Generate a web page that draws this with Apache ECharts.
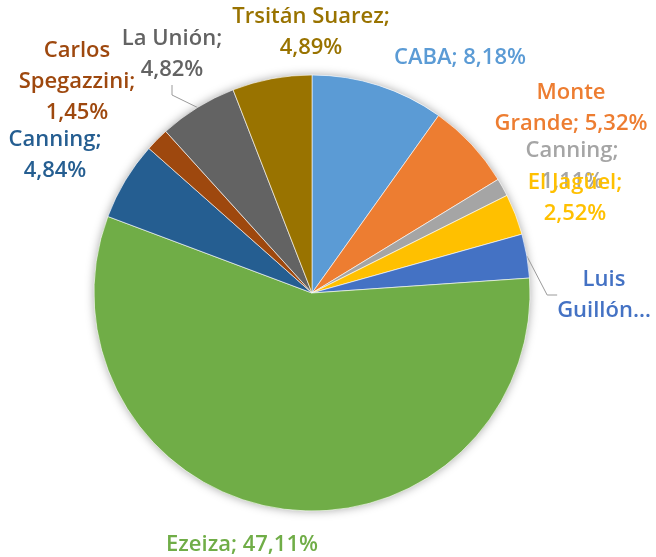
<!DOCTYPE html>
<html>
<head>
<meta charset="utf-8">
<script src="https://cdn.jsdelivr.net/npm/echarts@6/dist/echarts.min.js"></script>
<style>
  html, body { margin: 0; padding: 0; background: #fff; }
  #chart { width: 656px; height: 557px; }
</style>
</head>
<body>
<div id="chart"></div>
<script>
// Localities and their shares (%)
const categories = ['CABA', 'Monte Grande', 'Canning', 'El Jagüel', 'Luis Guillón',
                    'Ezeiza', 'Canning', 'Carlos Spegazzini', 'La Unión', 'Trsitán Suarez'];
const values = [8.18, 5.32, 1.11, 2.52, 2.7, 47.11, 4.84, 1.45, 4.82, 4.89];
const colors = ['#5B9BD5', '#ED7D31', '#A5A5A5', '#FFC000', '#4472C4',
                '#70AD47', '#255E91', '#9E480E', '#636363', '#997300'];

// How each label wraps, and where its centre sits
const labelWrap = ['inline', 'split', 'stack', 'stack', 'trunc',
                   'inline', 'stack', 'split3', 'stack', 'stack'];
const labelPos = [[460, 58], [571, 108], [572, 166], [575, 198], [604, 295],
                  [242, 545], [55, 155], [77, 82], [172, 54], [311, 32]];
const showLine = [false, false, false, false, true, false, false, false, true, false];

const fmt = v => v.toFixed(2).replace('.', ',') + '%';

function labelText(i) {
  const name = categories[i], v = fmt(values[i]);
  const words = name.split(' ');
  switch (labelWrap[i]) {
    case 'inline': return name + '; ' + v;
    case 'split': return words[0] + '\n' + words.slice(1).join(' ') + '; ' + v;
    case 'split3': return words[0] + '\n' + words.slice(1).join(' ') + ';\n' + v;
    case 'trunc': return words[0] + '\n' + words.slice(1).join(' ') + '…';
    default: return name + ';\n' + v;
  }
}

const data = values.map((v, i) => ({
  name: categories[i],
  value: v,
  itemStyle: { color: colors[i] },
  label: { color: colors[i] },
  labelLine: { show: showLine[i] }
}));

const chart = echarts.init(document.getElementById('chart'));
chart.setOption({
  animation: false,
  backgroundColor: '#fff',
  series: [
    {
      // soft shadow disc under the pie
      type: 'pie',
      silent: true,
      center: [312, 293],
      radius: 218,
      z: 1,
      label: { show: false },
      labelLine: { show: false },
      itemStyle: { color: '#fff', shadowBlur: 10, shadowColor: 'rgba(0,0,0,0.35)' },
      data: [{ value: 1, name: '' }]
    },
    {
      type: 'pie',
      center: [312, 293],
      radius: 218,
      startAngle: 90,
      clockwise: true,
      z: 2,
      itemStyle: { borderColor: '#ffffff', borderWidth: 0.6 },
      label: {
        show: true,
        position: 'outside',
        fontFamily: 'Open Sans',
        fontWeight: 600,
        fontSize: 22,
        lineHeight: 31,
        align: 'center',
        overflow: 'none',
        formatter: p => labelText(p.dataIndex)
      },
      labelLine: {
        length: 10,
        length2: 10,
        lineStyle: { color: '#9a9a9a', width: 1 }
      },
      labelLayout: p => ({
        x: labelPos[p.dataIndex][0],
        y: labelPos[p.dataIndex][1],
        align: 'center',
        verticalAlign: 'middle'
      }),
      data: data
    }
  ]
});
</script>
</body>
</html>
